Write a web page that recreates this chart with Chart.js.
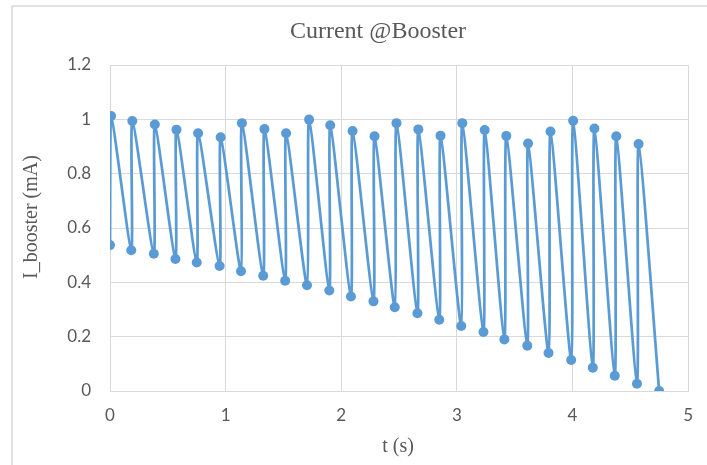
<!DOCTYPE html>
<html lang="en">
<head>
  <meta charset="UTF-8">
  <title>Current @Booster</title>
  <script src="https://cdn.jsdelivr.net/npm/chart.js"></script>
  <style>
    body {
      margin: 0;
      padding: 0;
      background: #ffffff;
    }
    canvas {
      display: block;
    }
  </style>
</head>
<body>
  <canvas id="boosterChart" width="707" height="465"></canvas>

  <script>
    // time (s) and booster current (mA), one charge/discharge cycle per pair
    const timeS = [
      0.000, 0.009, 0.184, 0.193, 0.379, 0.388, 0.566, 0.575, 0.750, 0.762,
      0.948, 0.957, 1.133, 1.141, 1.325, 1.336, 1.515, 1.523, 1.704, 1.722,
      1.897, 1.905, 2.084, 2.098, 2.279, 2.288, 2.463, 2.478, 2.659, 2.667,
      2.848, 2.859, 3.038, 3.047, 3.230, 3.241, 3.411, 3.428, 3.609, 3.616,
      3.793, 3.810, 3.989, 4.006, 4.176, 4.190, 4.366, 4.379, 4.558, 4.572,
      4.750
    ];
    const currentMA = [
      0.537, 1.012, 0.518, 0.994, 0.505, 0.981, 0.486, 0.962, 0.473, 0.949,
      0.460, 0.934, 0.441, 0.986, 0.424, 0.964, 0.406, 0.949, 0.389, 0.999,
      0.370, 0.978, 0.348, 0.957, 0.330, 0.938, 0.308, 0.986, 0.286, 0.963,
      0.262, 0.940, 0.239, 0.986, 0.217, 0.961, 0.190, 0.939, 0.167, 0.911,
      0.140, 0.955, 0.114, 0.995, 0.086, 0.966, 0.056, 0.938, 0.027, 0.909,
      0.000
    ];
    const xTicks = [0, 1, 2, 3, 4, 5];
    const yTicks = [0, 0.2, 0.4, 0.6, 0.8, 1, 1.2];

    const chartTitle = 'Current @Booster';
    const xTitle = 't (s)';
    const yTitle = 'I_booster (mA)';

    const points = timeS.map((t, i) => ({ x: t, y: currentMA[i] }));

    const gridColor = '#d9d9d9';
    const textColor = '#595959';

    // frame + titles, drawn in the Excel-like positions
    const decorPlugin = {
      id: 'decor',
      afterDraw(chart) {
        const c = chart.ctx;
        c.save();
        c.strokeStyle = gridColor;
        c.lineWidth = 1.5;
        c.beginPath();
        c.moveTo(12, 470);
        c.lineTo(12, 6);
        c.lineTo(707, 6);
        c.stroke();

        c.fillStyle = textColor;
        c.textAlign = 'center';
        c.textBaseline = 'middle';
        c.font = '24px "Liberation Serif", serif';
        c.fillText(chartTitle, 378, 32);

        c.font = '20px "Liberation Serif", serif';
        c.fillText(xTitle, 398, 447);

        c.translate(32, 217);
        c.rotate(-Math.PI / 2);
        c.fillText(yTitle, 0, 0);
        c.restore();
      }
    };

    new Chart(document.getElementById('boosterChart'), {
      type: 'scatter',
      data: {
        datasets: [{
          data: points,
          showLine: true,
          tension: 0.22,
          borderColor: '#5b9bd5',
          borderWidth: 2.75,
          pointRadius: 5,
          pointBackgroundColor: '#5b9bd5',
          pointBorderWidth: 0
        }]
      },
      options: {
        responsive: false,
        animation: false,
        devicePixelRatio: 1,
        layout: {
          padding: { top: 65, right: 17, left: 0, bottom: 0 }
        },
        plugins: {
          legend: { display: false },
          tooltip: { enabled: false }
        },
        scales: {
          x: {
            type: 'linear',
            min: 0,
            max: 5,
            afterFit: (scale) => { scale.height = 74; },
            afterBuildTicks: (scale) => { scale.ticks = xTicks.map(v => ({ value: v })); },
            grid: { color: gridColor, drawTicks: false },
            border: { color: gridColor },
            ticks: {
              color: textColor,
              padding: 14,
              font: { family: 'Lato', size: 17 },
              callback: (v) => String(v)
            }
          },
          y: {
            min: 0,
            max: 1.2,
            afterFit: (scale) => { scale.width = 110; },
            afterBuildTicks: (scale) => { scale.ticks = yTicks.map(v => ({ value: v })); },
            grid: { color: gridColor, drawTicks: false },
            border: { color: gridColor },
            ticks: {
              color: textColor,
              padding: 19,
              font: { family: 'Lato', size: 17 },
              callback: (v) => String(+v.toFixed(1))
            }
          }
        }
      },
      plugins: [decorPlugin]
    });
  </script>
</body>
</html>
